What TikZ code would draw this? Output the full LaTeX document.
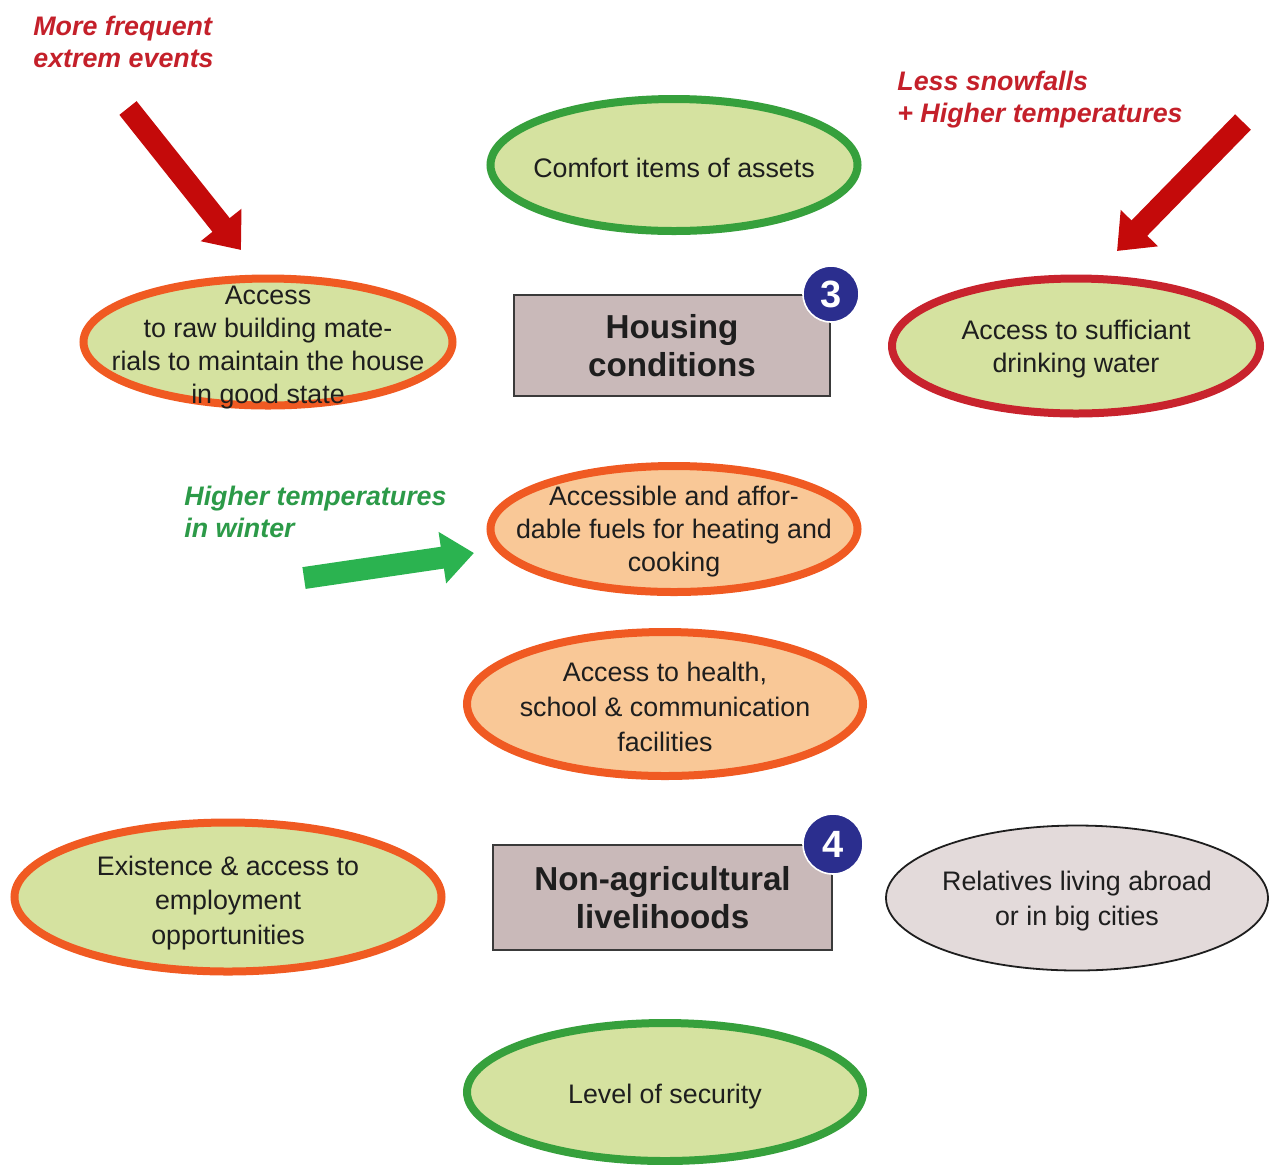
\documentclass[tikz,border=0pt]{standalone}
\usepackage{fontspec}
\setmainfont{Liberation Sans}
\usepackage{xcolor}
\usetikzlibrary{arrows.meta,shapes.geometric}

\definecolor{leaf}{HTML}{D5E2A0}
\definecolor{peach}{HTML}{F9C897}
\definecolor{mist}{HTML}{E3DADA}
\definecolor{boxfill}{HTML}{C9B9B9}
\definecolor{boxline}{HTML}{3A3A3A}
\definecolor{ink}{HTML}{1E1E1E}
\definecolor{grass}{HTML}{36A03C}
\definecolor{flame}{HTML}{F05A22}
\definecolor{blood}{HTML}{C8232D}
\definecolor{numblue}{HTML}{2B2E8E}
\definecolor{redarrow}{HTML}{C40A0A}
\definecolor{redtext}{HTML}{C4202A}
\definecolor{greenarrow}{HTML}{2BB350}
\definecolor{greentext}{HTML}{2C9A48}

\begin{document}
\begin{tikzpicture}[x=0.5pt,y=-0.5pt,
  oval/.style={ellipse,inner sep=0pt,line width=4pt,fill=leaf},
  txt/.style={align=center,inner sep=0pt,text=ink,yshift=-1.5pt,font=\fontsize{13.4}{16.5}\selectfont},
  wide/.style={font=\fontsize{13.4}{17.4}\selectfont},
  box/.style={rectangle,draw=boxline,line width=1pt,fill=boxfill,align=center,
    text=ink,font=\fontsize{16.6}{19}\selectfont\bfseries},
  num/.style={circle,fill=numblue,draw=white,line width=0.8pt,text=white,inner sep=0pt,
    font=\fontsize{19}{19}\selectfont\bfseries},
  cue/.style={align=left,anchor=north west,inner sep=0pt,
    font=\fontsize{13.4}{16}\selectfont\bfseries\itshape},
  push/.style={line width=11pt,-{Triangle[width=25pt,length=16pt]}}]

\useasboundingbox (0,0) rectangle (1269,1164);

% ovals
\node[oval,draw=grass,minimum width=183.5pt,minimum height=66pt,
  label={[txt]center:Comfort items of assets}] (comfort) at (674,165) {};
\node[oval,draw=flame,minimum width=184.5pt,minimum height=63.5pt,
  label={[txt,yshift=-1.5pt]center:{Access\\to raw building mate-\\rials to maintain the house\\in good state}}] (raw) at (268,342) {};
\node[oval,draw=blood,minimum width=184pt,minimum height=67.5pt,
  label={[txt]center:{Access to sufficiant\\drinking water}}] (water) at (1076,346) {};
\node[oval,draw=flame,fill=peach,minimum width=183.5pt,minimum height=63pt,
  label={[txt]center:{Accessible and affor-\\dable fuels for heating and\\cooking}}] (fuel) at (674,529) {};
\node[oval,draw=flame,fill=peach,minimum width=198pt,minimum height=72pt,
  label={[txt,wide]center:{Access to health,\\school \& communication\\facilities}}] (health) at (665,704) {};
\node[oval,draw=flame,minimum width=213.5pt,minimum height=74.5pt,
  label={[txt,wide,yshift=-1.5pt]center:{Existence \& access to\\employment\\opportunities}}] (work) at (228,897) {};
\node[oval,draw=ink,line width=0.9pt,fill=mist,minimum width=191pt,minimum height=72.5pt,
  label={[txt,wide]center:{Relatives living abroad\\or in big cities}}] (kin) at (1077,898) {};
\node[oval,draw=grass,minimum width=198pt,minimum height=69pt,
  label={[txt,yshift=-1pt]center:Level of security}] (safe) at (665,1092) {};

% boxes
\node[box,minimum width=158pt,minimum height=50.5pt] (housing) at (672,345.5) {Housing\\conditions};
\node[box,minimum width=169.5pt,minimum height=52.5pt] (nonagri) at (662.5,897.5) {Non-agricultural\\livelihoods};
\node[num,minimum size=28pt] (n3) at (housing.north east) {3};
\node[num,minimum size=30pt] (n4) at (nonagri.north east) {4};

% drivers
\node[cue,text=redtext] (events) at (33,16) {More frequent\\extrem events};
\node[cue,text=redtext] (snow) at (897,71) {Less snowfalls\\+ Higher temperatures};
\node[cue,text=greentext] (winter) at (184,486) {Higher temperatures\\in winter};

\coordinate (e0) at (128,108);
\coordinate (e1) at (241,250);
\coordinate (s0) at (1243,122);
\coordinate (s1) at (1117,251);
\coordinate (w0) at (304,578);
\coordinate (w1) at (474,553);
\draw[push,redarrow] (e0) -- (e1);
\draw[push,redarrow] (s0) -- (s1);
\draw[push,greenarrow] (w0) -- (w1);

\end{tikzpicture}
\end{document}
